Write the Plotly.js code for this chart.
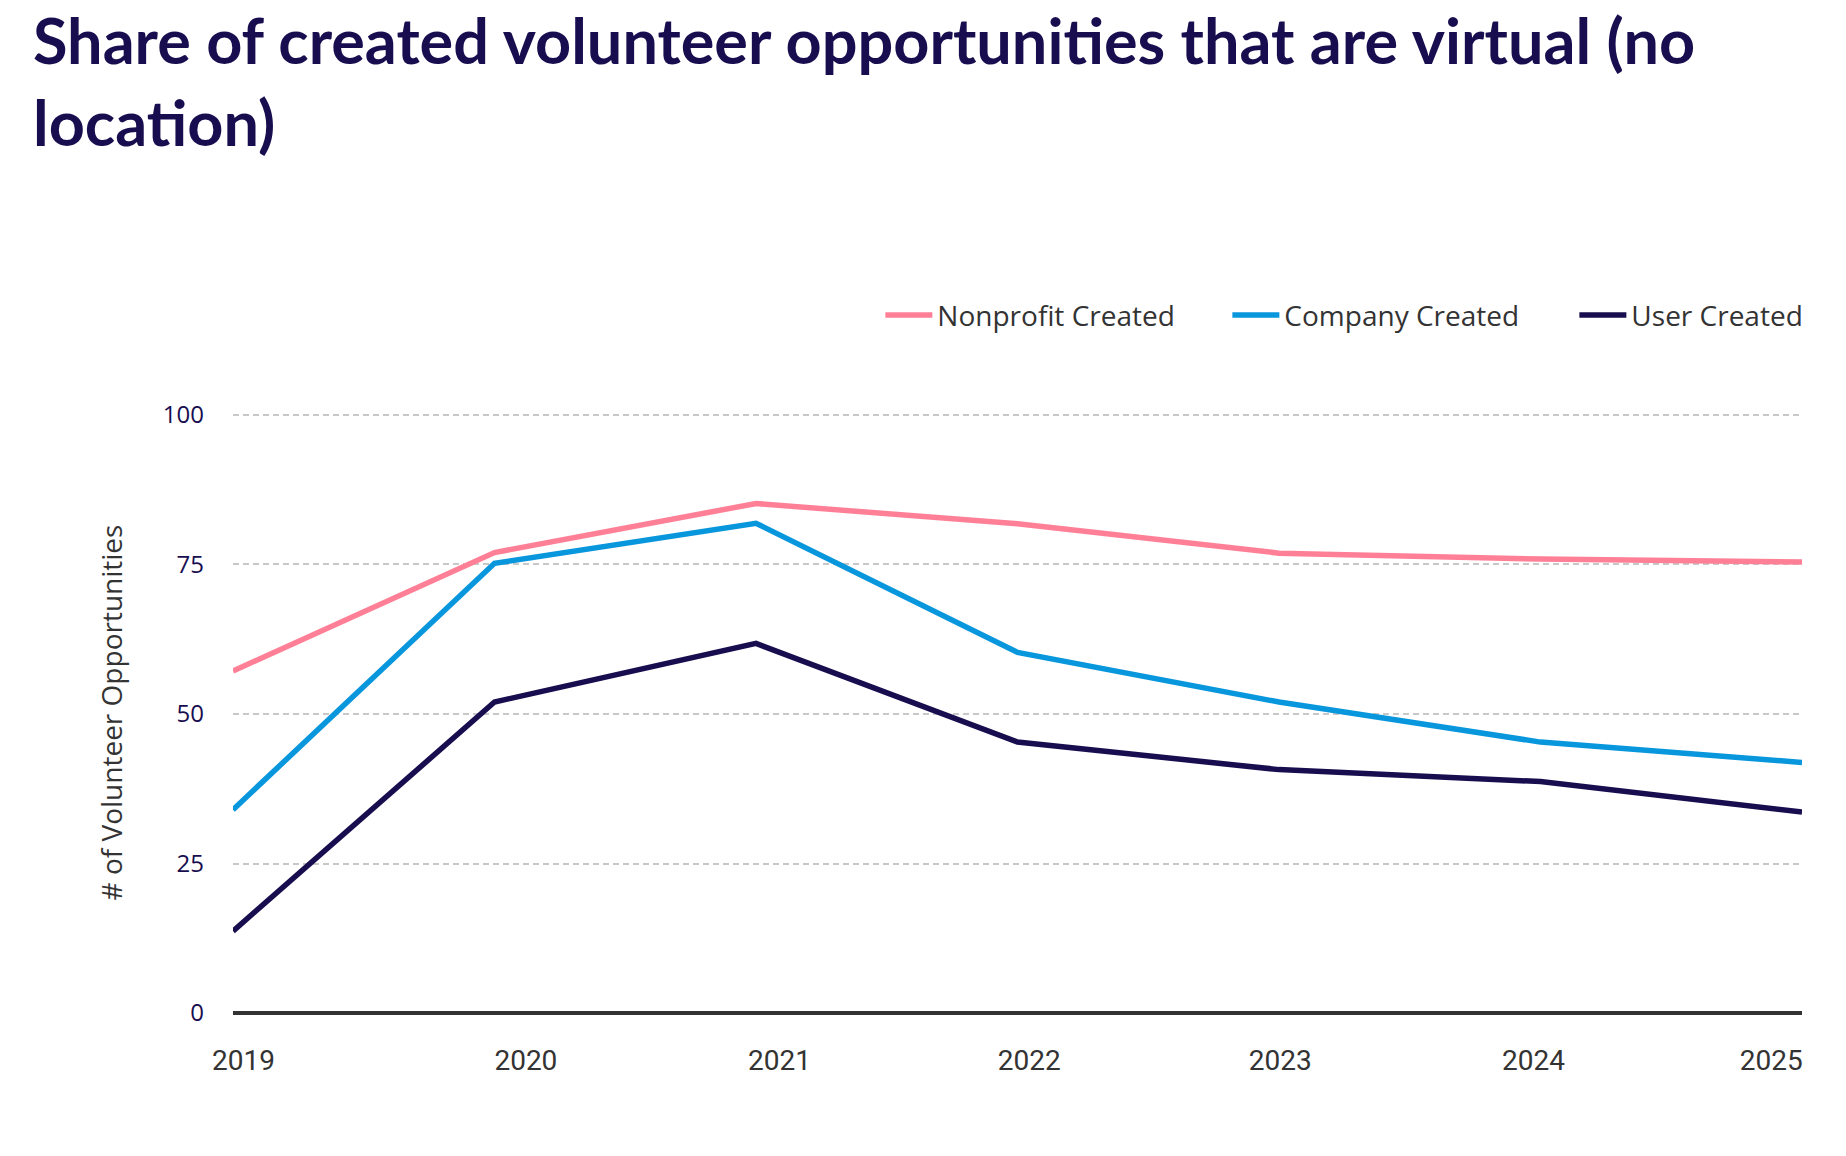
<!DOCTYPE html>
<html>
<head>
<meta charset="utf-8">
<script src="https://cdn.plot.ly/plotly-3.0.1.min.js"></script>
<style>
  html, body { margin: 0; padding: 0; background: #ffffff; }
  #chart { width: 1846px; height: 1156px; }
</style>
</head>
<body>
<div id="chart"></div>
<script>
// ---- data ----
const years = [2019, 2020, 2021, 2022, 2023, 2024, 2025];
const yearLabels = ["2019", "2020", "2021", "2022", "2023", "2024", "2025"];
const nonprofitCreated = [57.2, 77.0, 85.2, 81.8, 76.9, 75.9, 75.4];
const companyCreated   = [34.0, 75.2, 81.9, 60.3, 52.0, 45.3, 41.9];
const userCreated      = [13.7, 52.0, 61.8, 45.3, 40.7, 38.7, 33.6];
const yTicks = [0, 25, 50, 75, 100];

const navy = "#180d4f";
const pink = "#ff8096";
const blue = "#0896dd";
const grey = "#333333";

function series(name, values, color) {
  return {
    type: "scatter",
    mode: "lines",
    name: name,
    x: years,
    y: values,
    line: { color: color, width: 5.5, shape: "linear" },
    hoverinfo: "x+y+name"
  };
}

const traces = [
  series("Nonprofit Created", nonprofitCreated, pink),
  series("Company Created", companyCreated, blue),
  series("User Created", userCreated, navy)
];

// the reference spreads its year labels slightly away from the data points
const labelShift = [0.04, 0.12, 0.09, 0.045, 0.005, -0.027, -0.118];

const layout = {
  width: 1846,
  height: 1156,
  paper_bgcolor: "#ffffff",
  plot_bgcolor: "#ffffff",
  margin: { l: 233, r: 44, t: 412, b: 143, pad: 0, autoexpand: false },
  title: {
    text: "Share of created volunteer opportunities that are virtual (no<br>location)",
    font: { family: "Lato, sans-serif", size: 63, color: navy, weight: 700 },
    x: 33 / 1846,
    xref: "container",
    xanchor: "left",
    y: 1 - 64 / 1156,
    yref: "container",
    yanchor: "top"
  },
  showlegend: true,
  legend: {
    orientation: "h",
    x: 0.4126,
    xanchor: "left",
    y: 1.161,
    yanchor: "middle",
    font: { family: "'Open Sans', sans-serif", size: 28, color: grey },
    itemwidth: 47,
    entrywidth: 285,
    entrywidthmode: "pixels",
    bgcolor: "rgba(0,0,0,0)"
  },
  xaxis: {
    type: "linear",
    range: [2019, 2025],
    tickmode: "array",
    tickvals: years.map((y, i) => y + labelShift[i]),
    ticktext: yearLabels,
    ticks: "",
    showgrid: false,
    zeroline: false,
    showline: false,
    ticklabelstandoff: 28,
    tickfont: { family: "Roboto, sans-serif", size: 28, color: grey },
    fixedrange: true
  },
  yaxis: {
    range: [0, 100.5],
    tickmode: "array",
    tickvals: yTicks,
    ticktext: yTicks.map(String),
    ticks: "",
    showgrid: true,
    gridcolor: "#c8c8c8",
    gridwidth: 1.8,
    griddash: "6px,4px",
    zeroline: true,
    zerolinecolor: grey,
    zerolinewidth: 4,
    showline: false,
    ticklabelstandoff: 28,
    tickfont: { family: "'Open Sans', sans-serif", size: 24, color: navy },
    title: {
      text: "# of Volunteer Opportunities",
      font: { family: "'Open Sans', sans-serif", size: 28, color: grey },
      standoff: 32
    },
    automargin: false,
    fixedrange: true
  },
  hovermode: "x unified"
};

Plotly.newPlot("chart", traces, layout, { displayModeBar: false, responsive: false });
</script>
</body>
</html>
